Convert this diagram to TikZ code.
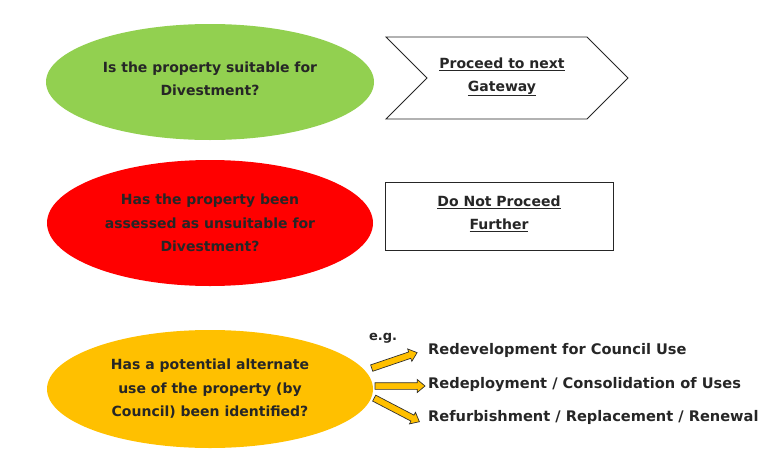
\documentclass[tikz,border=0pt]{standalone}
\usepackage{fontspec}
\setmainfont{DejaVu Sans}
\usetikzlibrary{shapes.geometric,shapes.arrows}
\definecolor{cgreen}{HTML}{92D050}
\definecolor{cred}{HTML}{FF0000}
\definecolor{corange}{HTML}{FFC000}
\definecolor{cline}{HTML}{303030}
\tikzset{
  q/.style={ellipse, inner sep=0pt, align=center, font=\bfseries\fontsize{14}{23.5}\selectfont, text=black!85},
  box/.style={draw=black!85, line width=0.9pt, fill=white},
  lbl/.style={align=center, font=\bfseries\fontsize{14}{22.5}\selectfont, text=black!85},
  opt/.style={anchor=west, inner sep=0pt, font=\bfseries\fontsize{14.6}{16}\selectfont, text=black!85},
  barrow/.style={single arrow, draw=cline, line width=0.7pt, fill=corange, inner xsep=0pt, inner ysep=3pt,
     single arrow head extend=3.2pt, single arrow tip angle=80, sloped}
}
\begin{document}
\begin{tikzpicture}[x=1pt,y=-1pt]
\useasboundingbox (0,0) rectangle (760,466);
% ellipses
\fill[cgreen] (210,82) ellipse [x radius=164, y radius=58];
\node[q] (q1) at (210,79) {Is the property suitable for\\Divestment?};
\fill[cred] (210,223) ellipse [x radius=163, y radius=63];
\node[q] (q2) at (210,223) {Has the property been\\assessed as unsuitable for\\Divestment?};
\fill[corange] (210,389) ellipse [x radius=163, y radius=59];
\node[q] (q3) at (210,389) {Has a potential alternate\\use of the property (by\\Council) been identified?};
% chevron
\coordinate (c1) at (386,37);
\coordinate (c2) at (587,37);
\coordinate (c3) at (628,78);
\coordinate (c4) at (587,119);
\coordinate (c5) at (386,119);
\coordinate (c6) at (427,78);
\draw[box, line join=miter] (c1) -- (c2) -- (c3) -- (c4) -- (c5) -- (c6) -- cycle;
\node[lbl] (t1) at (502,77) {\underline{Proceed to next}\\\underline{Gateway}};
% rectangle
\draw[box] (385,182) rectangle (613,250);
\node[lbl] (t2) at (499,214) {\underline{Do Not Proceed}\\\underline{Further}};
% options
\node[font=\bfseries\fontsize{13}{14}\selectfont, text=black!85] (eg) at (383,338) {e.g.};
\node[opt] (o1) at (428,350) {Redevelopment for Council Use};
\node[opt] (o2) at (428,385) {Redeployment / Consolidation of Uses};
\node[opt] (o3) at (428,417) {Refurbishment / Replacement / Renewal};
\coordinate (a1s) at (369,369); \coordinate (a1e) at (416,353);
\coordinate (a2s) at (373,386); \coordinate (a2e) at (423,386);
\coordinate (a3s) at (372,397); \coordinate (a3e) at (418,421);
\path (a1s) -- (a1e) node[barrow, midway, minimum height=48pt] (ar1) {};
\path (a2s) -- (a2e) node[barrow, midway, minimum height=50pt] (ar2) {};
\path (a3s) -- (a3e) node[barrow, midway, minimum height=51pt] (ar3) {};
\end{tikzpicture}
\end{document}
